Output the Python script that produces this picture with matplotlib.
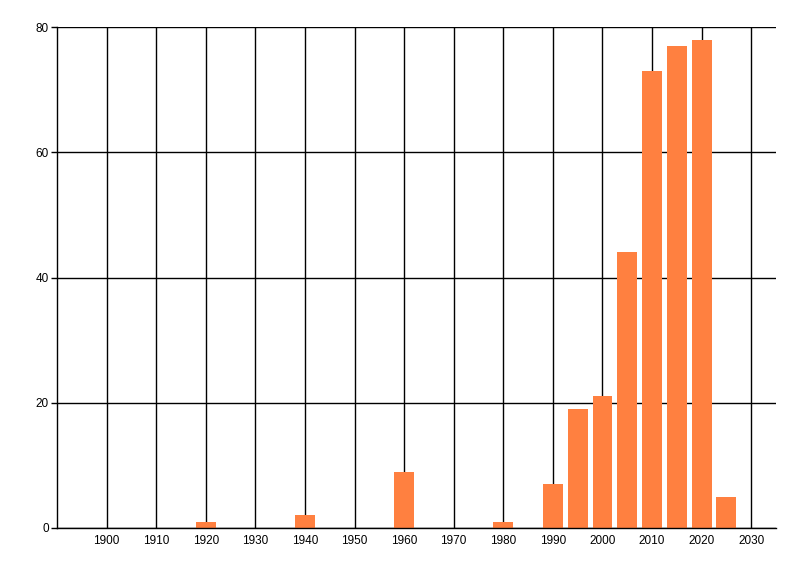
import matplotlib
matplotlib.use("Agg")
import matplotlib.pyplot as plt

# values
years = [1920, 1940, 1960, 1980, 1990, 1995, 2000, 2005, 2010, 2015, 2020, 2025]
counts = [1, 2, 9, 1, 7, 19, 21, 44, 73, 77, 78, 5]
xticks = [1900, 1910, 1920, 1930, 1940, 1950, 1960, 1970, 1980, 1990, 2000, 2010, 2020, 2030]
yticks = [0, 20, 40, 60, 80]

plt.rcParams["font.family"] = ["Liberation Sans", "DejaVu Sans"]

fig = plt.figure(figsize=(8, 5.76), dpi=100)
ax = fig.add_axes([57 / 800, 48 / 576, (776 - 57) / 800, (528 - 27) / 576])

ax.bar(years, counts, width=4, color="#ff8040", zorder=3)

ax.set_xlim(1890, 2035)
ax.set_ylim(0, 80)
ax.set_xticks(xticks)
ax.set_yticks(yticks)
ax.tick_params(axis="x", length=0, labelsize=8.5, pad=5)
ax.tick_params(axis="y", length=4, labelsize=8.5, width=1, pad=2)

ax.grid(True, color="black", linewidth=1, zorder=0)
ax.set_axisbelow(True)
for side in ["top", "right"]:
    ax.spines[side].set_visible(False)
for side in ["left", "bottom"]:
    ax.spines[side].set_linewidth(1)
    ax.spines[side].set_zorder(4)

fig.savefig("out.png", dpi=100)
